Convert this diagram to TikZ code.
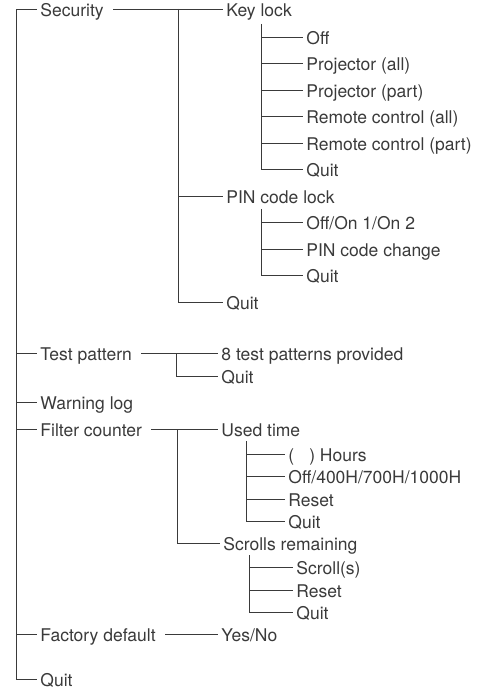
\documentclass[tikz,border=0pt]{standalone}
\usepackage{fontspec}
\setmainfont{TeX Gyre Heros}
\usepackage{xcolor}
\usepackage{tikz}
\usetikzlibrary{positioning}
\definecolor{mgray}{RGB}{58,58,58}

\begin{document}
\begin{tikzpicture}[
  x=1pt, y=-1pt, line width=0.9pt,
  item/.style={anchor=west, inner xsep=3pt, inner ysep=0pt, text height=15.5pt, text depth=0pt,
    text=mgray, font=\fontsize{17.5}{18}\selectfont},
  wire/.style={draw=mgray}
]
\useasboundingbox (0,0) rectangle (492,692);
% first level
\node[item] (sec) at (37,9) {Security};
\node[item] (test) at (37,353) {Test pattern};
\node[item] (warn) at (37,402) {Warning log};
\node[item] (filt) at (37,429) {Filter counter};
\node[item] (fact) at (37,634) {Factory default};
\node[item] (quit) at (37,679) {Quit};
% security
\node[item] (keylock) at (223,9) {Key lock};
\node[item] (kloff) at (303,37) {Off};
\node[item] (klpa) at (303,63) {Projector (all)};
\node[item] (klpp) at (303,90) {Projector (part)};
\node[item] (klra) at (303,116) {Remote control (all)};
\node[item] (klrp) at (303,143) {Remote control (part)};
\node[item] (klquit) at (303,169) {Quit};
\node[item] (pin) at (223,196) {PIN code lock};
\node[item] (pinoff) at (303,222) {Off/On 1/On 2};
\node[item] (pinchg) at (303,249) {PIN code change};
\node[item] (pinquit) at (303,275) {Quit};
\node[item] (secquit) at (223,302) {Quit};
% test pattern
\node[item] (tp8) at (218,353) {8 test patterns provided};
\node[item] (tpquit) at (218,376) {Quit};
% filter counter
\node[item] (used) at (218,429) {Used time};
\node[item] (hours) at (285,454) {(\hspace{15pt}) Hours};
\node[item] (usedoff) at (285,476) {Off/400H/700H/1000H};
\node[item] (usedreset) at (285,499) {Reset};
\node[item] (usedquit) at (285,521) {Quit};
\node[item] (scrolls) at (220,543) {Scrolls remaining};
\node[item] (scroll) at (293,567) {Scroll(s)};
\node[item] (scrreset) at (293,590) {Reset};
\node[item] (scrquit) at (293,612) {Quit};
% factory default
\node[item] (yesno) at (218,634) {Yes/No};

% bus lines
\coordinate (trunk) at (16,9);
\coordinate (secbus) at (178,9);
\coordinate (klbus) at (261,24);
\coordinate (pinbus) at (261,209);
\coordinate (tpbus) at (176,353);
\coordinate (fcbus) at (177,429);
\coordinate (utbus) at (246,441);
\coordinate (srbus) at (249,555);

\draw[wire] (sec.west) -- (trunk) |- (quit.west);
\draw[wire] (trunk |- test.west) -- (test.west);
\draw[wire] (trunk |- warn.west) -- (warn.west);
\draw[wire] (trunk |- filt.west) -- (filt.west);
\draw[wire] (trunk |- fact.west) -- (fact.west);

\draw[wire] ([xshift=6pt]sec.east) -- (keylock.west);
\draw[wire] (secbus) |- (secquit.west);
\draw[wire] (secbus |- pin.west) -- (pin.west);
\draw[wire] (klbus) |- (klquit.west);
\draw[wire] (klbus |- kloff.west) -- (kloff.west);
\draw[wire] (klbus |- klpa.west) -- (klpa.west);
\draw[wire] (klbus |- klpp.west) -- (klpp.west);
\draw[wire] (klbus |- klra.west) -- (klra.west);
\draw[wire] (klbus |- klrp.west) -- (klrp.west);
\draw[wire] (pinbus) |- (pinquit.west);
\draw[wire] (pinbus |- pinoff.west) -- (pinoff.west);
\draw[wire] (pinbus |- pinchg.west) -- (pinchg.west);

\draw[wire] ([xshift=6pt]test.east) -- (tp8.west);
\draw[wire] (tpbus) |- (tpquit.west);

\draw[wire] ([xshift=6pt]filt.east) -- (used.west);
\draw[wire] (fcbus) |- (scrolls.west);
\draw[wire] (utbus) |- (usedquit.west);
\draw[wire] (utbus |- hours.west) -- (hours.west);
\draw[wire] (utbus |- usedoff.west) -- (usedoff.west);
\draw[wire] (utbus |- usedreset.west) -- (usedreset.west);
\draw[wire] (srbus) |- (scrquit.west);
\draw[wire] (srbus |- scroll.west) -- (scroll.west);
\draw[wire] (srbus |- scrreset.west) -- (scrreset.west);

\draw[wire] ([xshift=6pt]fact.east) -- (yesno.west);
\end{tikzpicture}
\end{document}
